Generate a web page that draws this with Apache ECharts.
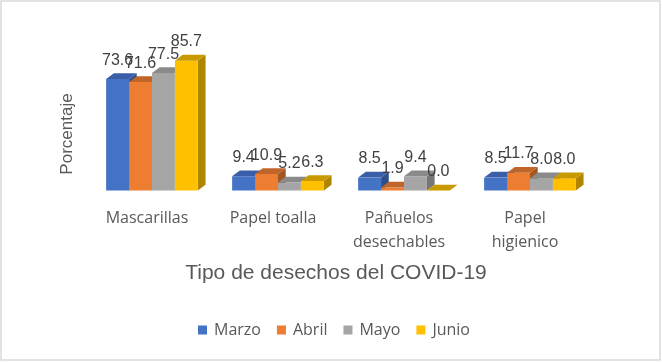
<!DOCTYPE html>
<html>
<head>
<meta charset="utf-8">
<script src="https://cdn.jsdelivr.net/npm/echarts@6/dist/echarts.min.js"></script>
<style>html,body{margin:0;padding:0;background:#fff}#c{width:662px;height:362px}</style>
</head>
<body>
<div id="c"></div>
<script>
const categories = ['Mascarillas', 'Papel toalla', 'Pañuelos\ndesechables', 'Papel\nhigienico'];
const seriesNames = ['Marzo', 'Abril', 'Mayo', 'Junio'];
const marzo = [73.6, 9.4, 8.5, 8.5];
const abril = [71.6, 10.9, 1.9, 11.7];
const mayo = [77.5, 5.2, 9.4, 8.0];
const junio = [85.7, 6.3, 0.0, 8.0];
const xTitle = 'Tipo de desechos del COVID-19';
const yTitle = 'Porcentaje';

const values = [marzo, abril, mayo, junio];
const front = ['#4472C4', '#ED7D31', '#A5A5A5', '#FFC000'];
const topC = ['#3A5FA8', '#C0652A', '#8A8A8A', '#C99A00'];
const sideC = ['#2F4E8C', '#A3561F', '#767676', '#B08600'];
const DX = 7.7, DY = 5.8, BWF = 0.182, SHIFT = 5;

function makeSeries(si) {
  return {
    type: 'custom',
    name: seriesNames[si],
    data: values[si].map((v, i) => [i, v]),
    encode: { x: 0, y: 1 },
    z: 2 + si,
    renderItem: function (params, api) {
      const ci = api.value(0), v = api.value(1);
      const top = api.coord([ci, v]);
      const base = api.coord([ci, 0]);
      const band = api.size([1, 0])[0];
      const bw = band * BWF;
      const cx = top[0] + SHIFT + (si - 1.5) * bw;
      const x0 = cx - bw / 2, x1 = cx + bw / 2;
      const yT = top[1], yB = base[1];
      return {
        type: 'group',
        children: [
          { type: 'polygon', shape: { points: [[x1, yB], [x1 + DX, yB - DY], [x1 + DX, yT - DY], [x1, yT]] }, style: { fill: sideC[si] } },
          { type: 'rect', shape: { x: x0, y: yT, width: bw, height: Math.max(yB - yT, 0) }, style: { fill: front[si] } },
          { type: 'polygon', shape: { points: [[x0, yT], [x1, yT], [x1 + DX, yT - DY], [x0 + DX, yT - DY]] }, style: { fill: topC[si] } },
          { type: 'text', x: cx, y: yT - DY - 5, style: { text: v.toFixed(1), align: 'center', verticalAlign: 'bottom', font: '16px "Liberation Sans", Arial, sans-serif', fill: '#404040' } }
        ]
      };
    }
  };
}

const chart = echarts.init(document.getElementById('c'), null, { renderer: 'canvas' });
chart.setOption({
  animation: false,
  backgroundColor: '#fff',
  color: front,
  grid: { left: 84, right: 74, top: 39, bottom: 171.5, containLabel: false },
  xAxis: {
    type: 'category',
    data: categories,
    axisLine: { show: false },
    axisTick: { show: false },
    axisLabel: { margin: 16, fontFamily: 'Open Sans', fontSize: 16, color: '#595959', lineHeight: 24, interval: 0 },
    name: xTitle,
    nameLocation: 'middle',
    nameGap: 72,
    nameTextStyle: { fontFamily: 'Liberation Sans', fontSize: 21, color: '#595959' }
  },
  yAxis: {
    type: 'value', min: 0, max: 100, interval: 20,
    axisLine: { show: false }, axisTick: { show: false }, axisLabel: { show: false }, splitLine: { show: false }
  },
  legend: {
    data: seriesNames,
    left: 193, top: 317,
    icon: 'rect', itemWidth: 9, itemHeight: 9, itemGap: 16,
    textStyle: { fontFamily: 'Open Sans', fontSize: 16, color: '#595959', padding: [0, 0, 0, 2] }
  },
  graphic: [
    { type: 'rect', shape: { x: 1, y: 1, width: 659, height: 359 }, style: { fill: 'none', stroke: '#D9D9D9', lineWidth: 1.5 }, silent: true },
    { type: 'text', x: 67, y: 134, rotation: Math.PI / 2, style: { text: yTitle, align: 'center', verticalAlign: 'middle', font: '17px "Liberation Sans", Arial, sans-serif', fill: '#595959' } }
  ],
  series: [0, 1, 2, 3].map(makeSeries)
});
</script>
</body>
</html>
